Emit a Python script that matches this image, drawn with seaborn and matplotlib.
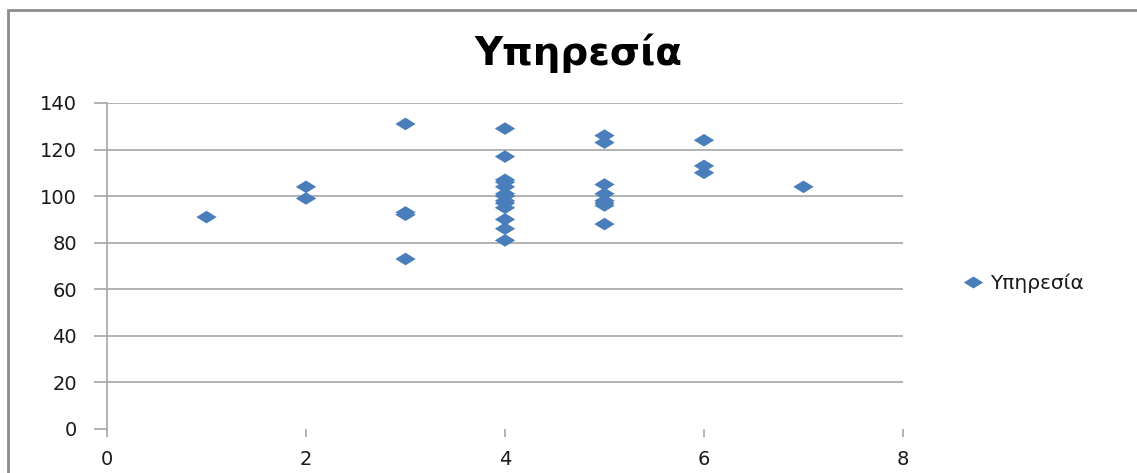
import numpy as np
import pandas as pd
import matplotlib
matplotlib.use("Agg")
import matplotlib.pyplot as plt
import seaborn as sns
from matplotlib.path import Path
from matplotlib.markers import MarkerStyle
from matplotlib.patches import Rectangle

# ---- data ----
series_name = "Υπηρεσία"
x_values = [1,
            2, 2,
            3, 3, 3, 3,
            4, 4, 4, 4, 4, 4, 4, 4, 4, 4, 4, 4, 4,
            5, 5, 5, 5, 5, 5, 5, 5,
            6, 6, 6,
            7]
y_values = [91,
            104, 99,
            131, 93, 92, 73,
            129, 117, 107, 106, 104, 101, 100, 98, 97, 95, 90, 86, 81,
            126, 123, 105, 101, 98, 97, 96, 88,
            124, 113, 110,
            104]
x_ticks = [0, 2, 4, 6, 8]
y_ticks = [0, 20, 40, 60, 80, 100, 120, 140]

df = pd.DataFrame({"x": x_values, "y": y_values, "series": series_name})

sns.set_theme(style="white")
plt.rcParams["font.family"] = ["DejaVu Sans"]

W, H = 1137, 473
fig = plt.figure(figsize=(W / 100, H / 100), dpi=100)
fig.patch.set_facecolor("white")

# axes placement in pixels: left 107, right 903, top 103, bottom 429
ax = fig.add_axes([107 / W, 1 - 429 / H, (903 - 107) / W, (429 - 103) / H])

diamond = MarkerStyle(Path([(-1.0, 0.0), (0.0, 0.62), (1.0, 0.0), (0.0, -0.62), (-1.0, 0.0)],
                           [Path.MOVETO, Path.LINETO, Path.LINETO, Path.LINETO, Path.CLOSEPOLY]))

sns.scatterplot(data=df, x="x", y="y", hue="series", palette=["#4A7EBB"],
                marker=diamond, s=215, linewidth=0, ax=ax, legend=True, zorder=3)

ax.set_xlim(0, 8)
ax.set_ylim(0, 140)
ax.set_xticks(x_ticks)
ax.set_yticks(y_ticks)
ax.set_xlabel("")
ax.set_ylabel("")

grid_color = "#A6A6A6"
ax.yaxis.grid(True, color=grid_color, linewidth=1.2)
ax.xaxis.grid(False)
ax.set_axisbelow(True)
# no gridline at 0 in the reference
for gl, t in zip(ax.yaxis.get_gridlines(), y_ticks):
    if t == 0:
        gl.set_visible(False)

for s in ["top", "right", "bottom"]:
    ax.spines[s].set_visible(False)
ax.spines["left"].set_color(grid_color)
ax.spines["left"].set_linewidth(1.2)

ax.tick_params(axis="y", which="major", direction="out", length=9.5, width=1.2,
               color=grid_color, pad=12, labelsize=14, labelcolor="#1a1a1a", left=True)
ax.tick_params(axis="x", which="major", direction="out", length=6, width=1.2,
               color=grid_color, pad=9, labelsize=14, labelcolor="#1a1a1a", bottom=True)

# title
fig.text(578 / W, 1 - 53 / H, series_name, ha="center", va="center",
         fontsize=28, fontweight="bold", color="black")

# legend on the right
handles, labels = ax.get_legend_handles_labels()
leg = ax.legend(handles, labels, loc="center left",
                bbox_to_anchor=(955 / W, 1 - 283 / H), bbox_transform=fig.transFigure,
                frameon=False, fontsize=14.5, handletextpad=0.35, handlelength=1.0,
                markerscale=0.95, borderaxespad=0)
for t in leg.get_texts():
    t.set_color("#1a1a1a")

# outer chart-area border (cropped on the right and bottom)
fig.add_artist(Rectangle((8 / W, -0.2), 2.0, (H - 10) / H + 0.2, transform=fig.transFigure,
                         fill=False, edgecolor="#8c8c8c", linewidth=2))

fig.savefig("out.png", dpi=100)
